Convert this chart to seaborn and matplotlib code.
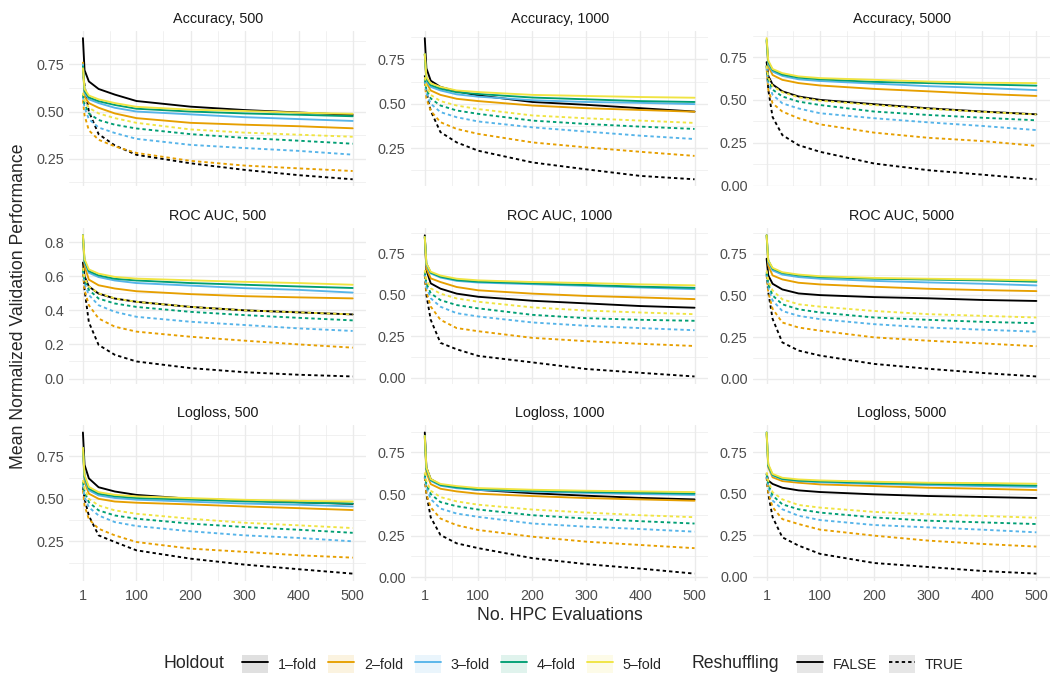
import pandas as pd
import seaborn as sns
import matplotlib.pyplot as plt
from matplotlib.ticker import MultipleLocator, FixedLocator, FormatStrFormatter
from matplotlib.patches import Patch
from matplotlib.lines import Line2D

evals = [1, 4, 12, 30, 60, 100, 200, 300, 400, 500]

holdouts = ["1–fold", "2–fold", "3–fold", "4–fold", "5–fold"]
reshuffling = ["FALSE", "TRUE"]
metrics = ["Accuracy", "ROC AUC", "Logloss"]
sizes = [500, 1000, 5000]

# rows: 1..5-fold without reshuffling, then 1..5-fold with reshuffling
accuracy_500 = [
    [0.89, 0.72, 0.66, 0.62, 0.59, 0.556, 0.526, 0.508, 0.495, 0.482],
    [0.76, 0.58, 0.545, 0.52, 0.49, 0.465, 0.44, 0.43, 0.422, 0.411],
    [0.75, 0.60, 0.565, 0.545, 0.52, 0.50, 0.485, 0.47, 0.46, 0.45],
    [0.74, 0.61, 0.575, 0.555, 0.535, 0.515, 0.50, 0.49, 0.483, 0.475],
    [0.73, 0.62, 0.585, 0.565, 0.545, 0.525, 0.51, 0.503, 0.494, 0.488],
    [0.72, 0.64, 0.50, 0.38, 0.32, 0.27, 0.225, 0.19, 0.162, 0.14],
    [0.56, 0.48, 0.40, 0.35, 0.315, 0.28, 0.238, 0.213, 0.198, 0.184],
    [0.58, 0.52, 0.46, 0.415, 0.386, 0.355, 0.323, 0.306, 0.291, 0.271],
    [0.59, 0.54, 0.49, 0.455, 0.43, 0.41, 0.38, 0.36, 0.345, 0.329],
    [0.60, 0.56, 0.52, 0.49, 0.465, 0.44, 0.405, 0.388, 0.377, 0.366],
]
accuracy_1000 = [
    [0.87, 0.70, 0.63, 0.595, 0.57, 0.547, 0.51, 0.494, 0.475, 0.456],
    [0.78, 0.62, 0.575, 0.55, 0.528, 0.515, 0.49, 0.475, 0.465, 0.455],
    [0.78, 0.63, 0.595, 0.575, 0.553, 0.54, 0.52, 0.51, 0.505, 0.498],
    [0.78, 0.64, 0.605, 0.585, 0.565, 0.555, 0.535, 0.525, 0.515, 0.51],
    [0.78, 0.65, 0.615, 0.595, 0.575, 0.566, 0.55, 0.544, 0.538, 0.534],
    [0.66, 0.57, 0.46, 0.34, 0.282, 0.235, 0.169, 0.13, 0.093, 0.074],
    [0.62, 0.53, 0.46, 0.396, 0.358, 0.33, 0.282, 0.254, 0.229, 0.206],
    [0.63, 0.56, 0.50, 0.453, 0.424, 0.40, 0.367, 0.343, 0.32, 0.301],
    [0.64, 0.58, 0.53, 0.49, 0.462, 0.443, 0.405, 0.386, 0.371, 0.358],
    [0.65, 0.60, 0.55, 0.515, 0.49, 0.47, 0.434, 0.418, 0.405, 0.392],
]
accuracy_5000 = [
    [0.72, 0.64, 0.59, 0.55, 0.52, 0.50, 0.475, 0.451, 0.432, 0.416],
    [0.84, 0.70, 0.645, 0.617, 0.598, 0.584, 0.564, 0.55, 0.535, 0.523],
    [0.85, 0.71, 0.665, 0.64, 0.62, 0.61, 0.595, 0.58, 0.57, 0.557],
    [0.85, 0.72, 0.675, 0.648, 0.63, 0.62, 0.605, 0.598, 0.59, 0.583],
    [0.86, 0.73, 0.68, 0.656, 0.637, 0.627, 0.617, 0.607, 0.60, 0.598],
    [0.70, 0.56, 0.40, 0.295, 0.236, 0.197, 0.129, 0.09, 0.064, 0.037],
    [0.68, 0.56, 0.48, 0.432, 0.393, 0.357, 0.309, 0.279, 0.26, 0.232],
    [0.69, 0.60, 0.53, 0.48, 0.45, 0.422, 0.393, 0.369, 0.348, 0.324],
    [0.70, 0.62, 0.56, 0.52, 0.49, 0.47, 0.432, 0.412, 0.396, 0.381],
    [0.70, 0.63, 0.58, 0.545, 0.515, 0.495, 0.47, 0.448, 0.43, 0.415],
]
roc_auc_500 = [
    [0.68, 0.60, 0.54, 0.498, 0.469, 0.45, 0.42, 0.40, 0.388, 0.376],
    [0.84, 0.66, 0.58, 0.547, 0.528, 0.512, 0.495, 0.483, 0.476, 0.47],
    [0.84, 0.68, 0.62, 0.595, 0.575, 0.56, 0.545, 0.53, 0.52, 0.504],
    [0.84, 0.69, 0.63, 0.605, 0.585, 0.575, 0.56, 0.55, 0.54, 0.531],
    [0.84, 0.70, 0.64, 0.615, 0.596, 0.586, 0.576, 0.567, 0.56, 0.55],
    [0.65, 0.52, 0.33, 0.197, 0.139, 0.10, 0.061, 0.037, 0.022, 0.012],
    [0.62, 0.52, 0.43, 0.352, 0.304, 0.275, 0.245, 0.222, 0.20, 0.181],
    [0.63, 0.56, 0.49, 0.43, 0.391, 0.362, 0.333, 0.314, 0.294, 0.279],
    [0.64, 0.58, 0.52, 0.469, 0.44, 0.42, 0.391, 0.372, 0.356, 0.341],
    [0.65, 0.59, 0.54, 0.50, 0.47, 0.45, 0.42, 0.40, 0.388, 0.376],
]
roc_auc_1000 = [
    [0.86, 0.65, 0.57, 0.538, 0.508, 0.489, 0.465, 0.449, 0.433, 0.423],
    [0.85, 0.66, 0.60, 0.578, 0.548, 0.528, 0.508, 0.494, 0.485, 0.475],
    [0.85, 0.68, 0.63, 0.605, 0.585, 0.575, 0.565, 0.555, 0.545, 0.535],
    [0.85, 0.69, 0.635, 0.61, 0.59, 0.58, 0.57, 0.56, 0.55, 0.543],
    [0.85, 0.69, 0.64, 0.617, 0.598, 0.588, 0.578, 0.572, 0.564, 0.558],
    [0.62, 0.50, 0.35, 0.211, 0.172, 0.132, 0.093, 0.053, 0.03, 0.008],
    [0.62, 0.52, 0.43, 0.35, 0.30, 0.281, 0.241, 0.221, 0.205, 0.192],
    [0.63, 0.55, 0.48, 0.429, 0.39, 0.37, 0.334, 0.314, 0.30, 0.287],
    [0.64, 0.57, 0.51, 0.469, 0.439, 0.419, 0.38, 0.36, 0.35, 0.344],
    [0.65, 0.59, 0.54, 0.508, 0.479, 0.459, 0.425, 0.406, 0.394, 0.384],
]
roc_auc_5000 = [
    [0.72, 0.62, 0.57, 0.536, 0.512, 0.502, 0.49, 0.483, 0.473, 0.467],
    [0.86, 0.68, 0.62, 0.596, 0.576, 0.566, 0.552, 0.54, 0.532, 0.526],
    [0.86, 0.70, 0.65, 0.625, 0.61, 0.60, 0.587, 0.578, 0.57, 0.56],
    [0.86, 0.71, 0.66, 0.635, 0.62, 0.61, 0.60, 0.595, 0.59, 0.582],
    [0.86, 0.71, 0.665, 0.639, 0.625, 0.615, 0.605, 0.60, 0.596, 0.59],
    [0.63, 0.52, 0.36, 0.219, 0.17, 0.14, 0.09, 0.061, 0.036, 0.015],
    [0.62, 0.52, 0.42, 0.338, 0.308, 0.289, 0.249, 0.229, 0.213, 0.196],
    [0.63, 0.55, 0.47, 0.407, 0.378, 0.358, 0.328, 0.308, 0.295, 0.283],
    [0.64, 0.57, 0.50, 0.447, 0.417, 0.398, 0.368, 0.354, 0.342, 0.334],
    [0.65, 0.59, 0.53, 0.477, 0.447, 0.433, 0.407, 0.388, 0.378, 0.368],
]
logloss_500 = [
    [0.89, 0.70, 0.62, 0.568, 0.543, 0.523, 0.50, 0.49, 0.48, 0.47],
    [0.80, 0.60, 0.53, 0.50, 0.484, 0.477, 0.467, 0.455, 0.445, 0.434],
    [0.80, 0.62, 0.55, 0.52, 0.505, 0.495, 0.483, 0.472, 0.465, 0.455],
    [0.80, 0.63, 0.56, 0.53, 0.515, 0.505, 0.495, 0.485, 0.478, 0.472],
    [0.80, 0.64, 0.57, 0.539, 0.523, 0.514, 0.504, 0.494, 0.488, 0.484],
    [0.57, 0.50, 0.40, 0.285, 0.246, 0.197, 0.148, 0.113, 0.086, 0.06],
    [0.55, 0.46, 0.38, 0.324, 0.285, 0.246, 0.207, 0.188, 0.168, 0.154],
    [0.58, 0.51, 0.45, 0.402, 0.363, 0.34, 0.309, 0.285, 0.27, 0.25],
    [0.60, 0.54, 0.48, 0.432, 0.402, 0.383, 0.354, 0.334, 0.318, 0.30],
    [0.61, 0.56, 0.50, 0.461, 0.432, 0.412, 0.383, 0.359, 0.344, 0.328],
]
logloss_1000 = [
    [0.87, 0.66, 0.59, 0.555, 0.54, 0.525, 0.505, 0.49, 0.477, 0.468],
    [0.84, 0.63, 0.56, 0.532, 0.516, 0.502, 0.488, 0.476, 0.468, 0.46],
    [0.85, 0.65, 0.58, 0.55, 0.535, 0.525, 0.515, 0.507, 0.50, 0.495],
    [0.85, 0.65, 0.585, 0.555, 0.54, 0.53, 0.52, 0.513, 0.508, 0.503],
    [0.85, 0.66, 0.59, 0.561, 0.548, 0.536, 0.526, 0.52, 0.516, 0.512],
    [0.60, 0.50, 0.36, 0.254, 0.204, 0.175, 0.115, 0.079, 0.052, 0.022],
    [0.60, 0.50, 0.42, 0.353, 0.313, 0.284, 0.244, 0.214, 0.194, 0.175],
    [0.61, 0.54, 0.47, 0.413, 0.383, 0.363, 0.323, 0.304, 0.29, 0.274],
    [0.62, 0.56, 0.50, 0.452, 0.427, 0.407, 0.373, 0.353, 0.337, 0.323],
    [0.63, 0.58, 0.52, 0.482, 0.456, 0.436, 0.407, 0.389, 0.373, 0.361],
]
logloss_5000 = [
    [0.62, 0.58, 0.56, 0.537, 0.521, 0.511, 0.497, 0.487, 0.481, 0.475],
    [0.86, 0.66, 0.60, 0.577, 0.567, 0.557, 0.547, 0.537, 0.531, 0.523],
    [0.87, 0.67, 0.61, 0.588, 0.577, 0.57, 0.56, 0.553, 0.547, 0.542],
    [0.87, 0.67, 0.615, 0.59, 0.58, 0.575, 0.565, 0.56, 0.555, 0.55],
    [0.87, 0.68, 0.62, 0.597, 0.587, 0.581, 0.573, 0.567, 0.565, 0.561],
    [0.60, 0.50, 0.36, 0.238, 0.188, 0.138, 0.083, 0.059, 0.035, 0.019],
    [0.60, 0.51, 0.42, 0.348, 0.318, 0.284, 0.248, 0.218, 0.198, 0.182],
    [0.61, 0.54, 0.46, 0.407, 0.368, 0.342, 0.312, 0.298, 0.284, 0.268],
    [0.62, 0.56, 0.49, 0.437, 0.407, 0.387, 0.358, 0.338, 0.328, 0.318],
    [0.63, 0.58, 0.51, 0.467, 0.433, 0.417, 0.391, 0.377, 0.367, 0.356],
]

panels = {
    ("Accuracy", 500): accuracy_500,
    ("Accuracy", 1000): accuracy_1000,
    ("Accuracy", 5000): accuracy_5000,
    ("ROC AUC", 500): roc_auc_500,
    ("ROC AUC", 1000): roc_auc_1000,
    ("ROC AUC", 5000): roc_auc_5000,
    ("Logloss", 500): logloss_500,
    ("Logloss", 1000): logloss_1000,
    ("Logloss", 5000): logloss_5000,
}

rows = []
for (metric, size), curves in panels.items():
    for i, vals in enumerate(curves):
        for x, v in zip(evals, vals):
            rows.append({"metric": metric, "size": size,
                         "holdout": holdouts[i % 5],
                         "reshuffling": reshuffling[i // 5],
                         "evals": x, "perf": v})
df = pd.DataFrame(rows)

colors = ["#000000", "#E69F00", "#56B4E9", "#009E73", "#F0E442"]
palette = dict(zip(holdouts, colors))
dashes = {"FALSE": "", "TRUE": (1.8, 1.6)}
lw = 1.35

sns.set_theme(style="whitegrid")
plt.rcParams["font.family"] = ["Liberation Sans", "DejaVu Sans"]

fig, axes = plt.subplots(3, 3, figsize=(10.52, 6.76), dpi=100, sharex=True)
fig.subplots_adjust(left=0.066, right=0.998, top=0.954, bottom=0.141,
                    wspace=0.152, hspace=0.27)

for r, metric in enumerate(metrics):
    for c, size in enumerate(sizes):
        ax = axes[r, c]
        sub = df[(df["metric"] == metric) & (df["size"] == size)]
        sns.lineplot(data=sub, x="evals", y="perf", hue="holdout",
                     style="reshuffling", hue_order=holdouts,
                     style_order=reshuffling, palette=palette, dashes=dashes,
                     linewidth=lw, errorbar=None, legend=False, ax=ax)
        ax.set_title(f"{metric}, {size}", fontsize=10.4, color="#1A1A1A", pad=6)
        ax.set_xlabel("")
        ax.set_ylabel("")
        step = 0.2 if (metric == "ROC AUC" and size == 500) else 0.25
        ax.yaxis.set_major_locator(MultipleLocator(step))
        ax.yaxis.set_minor_locator(MultipleLocator(step / 2))
        ax.yaxis.set_major_formatter(FormatStrFormatter("%.1f" if step == 0.2 else "%.2f"))
        ax.xaxis.set_major_locator(FixedLocator([1, 100, 200, 300, 400, 500]))
        ax.xaxis.set_minor_locator(FixedLocator([50.5, 150, 250, 350, 450]))
        ax.grid(which="major", color="#EBEBEB", linewidth=1.0)
        ax.grid(which="minor", color="#EBEBEB", linewidth=0.5)
        ax.tick_params(which="both", length=0, labelsize=10.4, colors="#4D4D4D")
        ax.tick_params(axis="y", pad=4)
        ax.tick_params(axis="x", pad=6)
        for s in ax.spines.values():
            s.set_visible(False)
        ax.set_axisbelow(True)

fig.text(0.018, 0.547, "Mean Normalized Validation Performance", rotation=90,
         ha="center", va="center", fontsize=12.7)
fig.text(0.532, 0.090, "No. HPC Evaluations", ha="center", va="center", fontsize=12.7)

# legends at the bottom
leg_kw = dict(frameon=False, borderpad=0, handlelength=1.82, handleheight=1.6,
              handletextpad=0.7, columnspacing=0.77, fontsize=10.3)
hold_handles = [(Patch(facecolor=col, alpha=0.12, edgecolor="none"),
                 Line2D([], [], color=col, lw=lw)) for col in colors]
fig.legend(hold_handles, holdouts, loc="center left",
           bbox_to_anchor=(0.2234, 0.0178), ncol=5, **leg_kw)
resh_handles = [(Patch(facecolor="#E6E6E6", edgecolor="none"),
                 Line2D([], [], color="black", lw=lw, linestyle="-")),
                (Patch(facecolor="#E6E6E6", edgecolor="none"),
                 Line2D([], [], color="black", lw=lw, dashes=(1.8, 1.6)))]
fig.legend(resh_handles, reshuffling, loc="center left",
           bbox_to_anchor=(0.751, 0.0178), ncol=2, **leg_kw)
fig.text(0.155, 0.0178, "Holdout", ha="left", va="center", fontsize=12.7)
fig.text(0.657, 0.0178, "Reshuffling", ha="left", va="center", fontsize=12.7)

fig.savefig("out.png", dpi=100)
